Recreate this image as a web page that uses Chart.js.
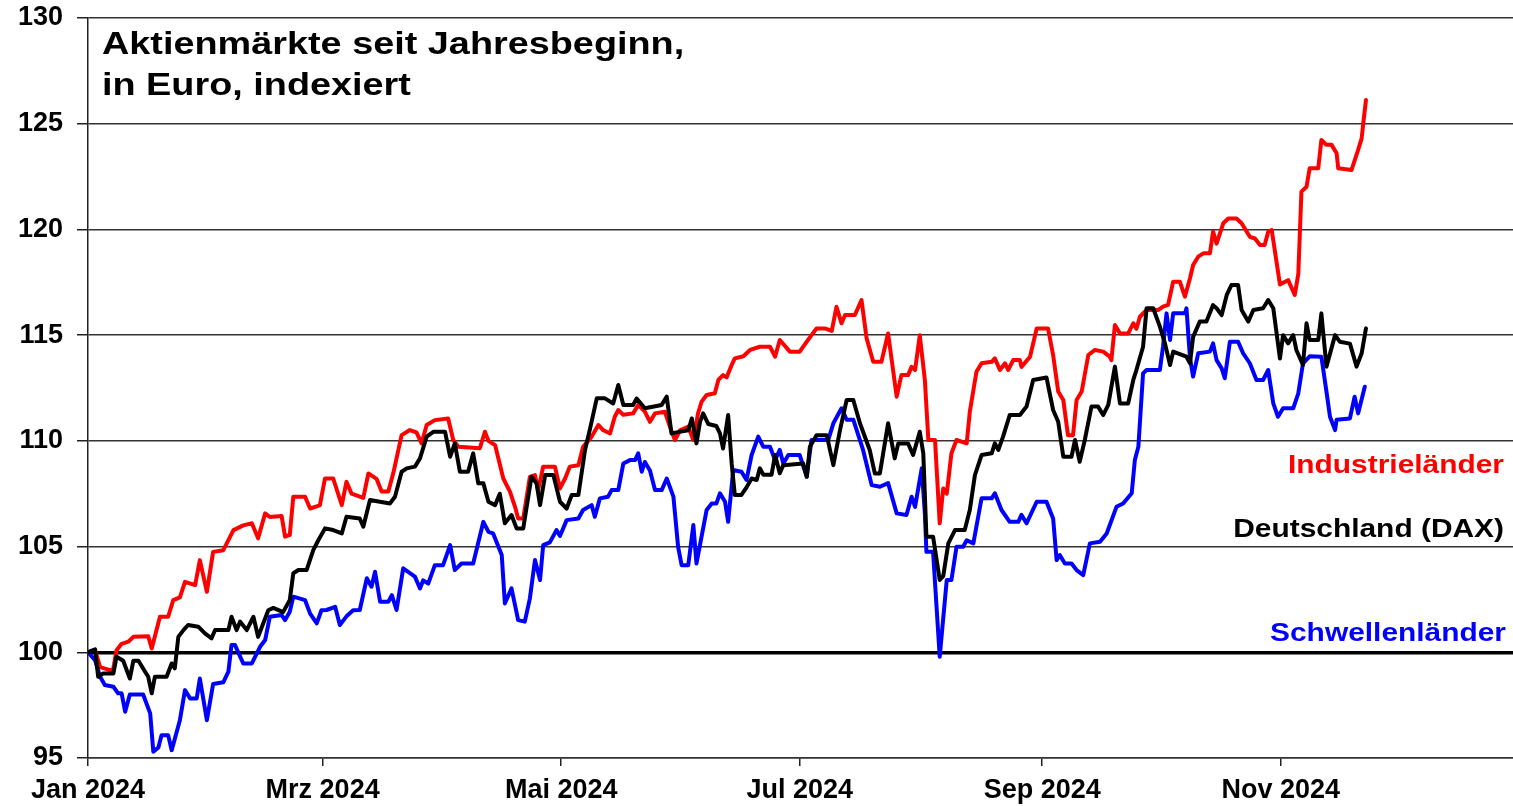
<!DOCTYPE html>
<html>
<head>
<meta charset="utf-8">
<script src="https://cdn.jsdelivr.net/npm/chart.js@4/dist/chart.umd.min.js"></script>
<style>
  body { margin: 0; background: #fff; }
  #wrap { width: 1513px; height: 806px; position: relative; }
</style>
</head>
<body>
<div id="wrap"><canvas id="chartMarkets"></canvas></div>
<script>
Chart.defaults.animation = false;

// x values are days since 1 Jan 2024
const monthTicks = [0, 60, 121, 182, 244, 305];
const monthLabels = ['Jan 2024', 'Mrz 2024', 'Mai 2024', 'Jul 2024', 'Sep 2024', 'Nov 2024'];
const yTicks = [95, 100, 105, 110, 115, 120, 125, 130];

const titleLines = ['Aktienmärkte seit Jahresbeginn,', 'in Euro, indexiert'];
const seriesNames = ['Industrieländer', 'Deutschland (DAX)', 'Schwellenländer'];

const industrialDays = [0, 1.8, 3.1, 5.6, 6.4, 7.3, 8.6, 10.3, 11.6, 15.4, 16.3, 18.4, 20.5, 21.8, 23.5, 24.8, 27.4, 28.6, 30.4, 32, 34.6, 37.2, 39.7, 41.9, 43.5, 45.3, 46.5, 49.5, 50.4, 51.6, 52.5, 55.5, 56.8, 58.5, 59.3, 60.6, 62.7, 64.9, 66.1, 67.4, 70.4, 71.7, 73.8, 75.1, 76.8, 78.1, 80.2, 82.3, 84, 85.3, 86.6, 88.7, 92.1, 93.4, 94.7, 100.2, 101.5, 102.4, 104.1, 106.2, 107.9, 109.2, 110, 111.3, 113, 114.3, 115.1, 116.4, 119.4, 120.7, 122, 123.2, 125.4, 126.6, 128.8, 130.5, 131.8, 133.5, 134.7, 135.6, 136.9, 139.4, 140.7, 142.4, 143.7, 145, 147.5, 148.8, 150.1, 151.4, 153.5, 154.8, 156, 156.9, 158.2, 160.3, 161.2, 162.4, 163.3, 164.6, 165.4, 167.6, 169.3, 171.8, 174.4, 175.7, 176.9, 179.5, 182, 183.8, 186.3, 188.4, 190.2, 191.4, 192.7, 193.6, 196.1, 197.8, 199.1, 200.8, 202.9, 204.6, 206.8, 208, 209.7, 210.6, 211.5, 212.7, 214, 214.9, 216.6, 217.8, 218.7, 219.6, 220.8, 222.1, 224.7, 225.5, 227.2, 228.5, 231.1, 231.9, 233.2, 234.5, 235.3, 236.6, 238.3, 238.7, 240.9, 242.6, 245.5, 246.8, 248.1, 249.4, 250.6, 251.9, 252.8, 254.1, 255.8, 257.5, 259.6, 261.3, 261.7, 262.6, 263.9, 266, 267.3, 268.1, 269, 270.7, 273.7, 274.9, 276.2, 277.5, 279.2, 280.5, 281.8, 282.6, 283.9, 285.2, 286.9, 287.7, 288.6, 290.3, 291.6, 293.7, 295, 297.1, 298.4, 299.7, 300.9, 301.8, 302.7, 304.8, 306.9, 308.6, 309.5, 310.3, 311.6, 312.4, 314.6, 315.4, 316.7, 318, 319.3, 319.7, 323.1, 324.8, 325.7, 326.1, 326.8];
const industrialValues = [100, 100.1, 99.3, 99.16, 99.16, 100.1, 100.4, 100.5, 100.73, 100.76, 100.18, 101.68, 101.68, 102.47, 102.6, 103.33, 103.18, 104.36, 102.86, 104.75, 104.83, 105.78, 106, 106.1, 105.39, 106.57, 106.4, 106.45, 105.47, 105.55, 107.36, 107.36, 106.8, 106.9, 106.96, 108.22, 108.22, 106.96, 108.07, 107.5, 107.3, 108.46, 108.2, 107.6, 107.6, 108.5, 110.27, 110.51, 110.4, 109.88, 110.75, 110.98, 111.06, 110.04, 109.72, 109.65, 110.43, 110, 109.8, 108.22, 107.6, 106.88, 106.33, 106.33, 108.3, 108.38, 107.67, 108.78, 108.78, 107.75, 108.22, 108.78, 108.85, 109.72, 110.2, 110.75, 110.5, 110.35, 111.14, 111.46, 111.23, 111.3, 111.7, 111.38, 110.9, 111.3, 111.38, 110.67, 110.04, 110.5, 110.67, 110.04, 111.3, 111.85, 112.17, 112.25, 112.88, 113.11, 113, 113.59, 113.9, 114, 114.3, 114.45, 114.45, 113.98, 114.77, 114.22, 114.22, 114.69, 115.32, 115.32, 115.2, 116.34, 115.56, 115.95, 115.95, 116.66, 114.85, 113.74, 113.74, 115.08, 112.09, 113.11, 113.11, 113.5, 113.35, 115, 112.88, 110.04, 110.04, 106.1, 107.75, 107.5, 109.41, 110.04, 109.88, 111.38, 113.27, 113.67, 113.74, 113.9, 113.35, 113.67, 113.35, 113.82, 113.82, 113.5, 113.98, 115.32, 115.32, 114.06, 112.33, 111.93, 110.27, 110.27, 111.93, 112.33, 114.06, 114.3, 114.22, 113.98, 113.82, 115.48, 115.08, 115.08, 115.56, 115.3, 115.87, 116.19, 116.19, 116.35, 116.43, 117.53, 117.53, 116.82, 117.69, 118.32, 118.71, 118.87, 118.87, 119.9, 119.33, 120.29, 120.52, 120.52, 120.29, 119.65, 119.57, 119.26, 119.26, 119.89, 119.97, 117.4, 117.6, 116.9, 117.9, 121.79, 122.02, 122.89, 122.89, 124.23, 124, 124, 123.6, 122.89, 122.81, 123.76, 124.31, 125, 126.12];

const daxDays = [0, 1.8, 2.6, 3.9, 6.5, 7.3, 9, 10.7, 11.6, 12.9, 14.6, 15.4, 16.3, 17.1, 20.1, 21.4, 22.2, 23.1, 24.4, 25.6, 28.2, 29.9, 31.6, 32.5, 35.9, 36.7, 38, 38.9, 40.6, 42.3, 43.5, 46.1, 47.4, 49.9, 51.6, 52.5, 53.8, 55.9, 57.6, 58.9, 60.6, 62.7, 64.9, 66.1, 69.5, 70.4, 72.1, 77.2, 78.5, 80.2, 81.5, 83.6, 84.9, 86.6, 88.3, 91.3, 92.6, 93.8, 95.1, 97.2, 98.5, 99.8, 101.1, 102.4, 104.1, 105.3, 106.6, 108.3, 109.6, 111.3, 113.4, 114.7, 115.6, 116.9, 119, 120.7, 122.4, 123.7, 125.4, 127.1, 128.4, 130.1, 132.2, 134.3, 135.6, 136.9, 139.4, 140.3, 142.4, 146.7, 148, 149.2, 150.5, 153.5, 154.4, 155.6, 156.5, 157.3, 158.6, 160.7, 161.6, 162.4, 163.7, 164.6, 165.4, 167.1, 168.4, 169.7, 171, 171.8, 172.7, 174.8, 175.7, 176.9, 177.8, 182.9, 183.8, 184.6, 186.3, 188.9, 190.6, 192.3, 194, 195.7, 197.4, 199.9, 201.2, 202.5, 204.6, 206.3, 207.2, 209.7, 211, 212.7, 213.6, 214.4, 216.1, 217.8, 218.7, 220, 221.7, 224.2, 225.5, 226.8, 228.5, 231.1, 231.9, 232.8, 234, 235.7, 238.3, 240, 241.7, 245.1, 246.8, 248.1, 249.4, 251.5, 252.4, 253.6, 254.9, 256.6, 258.3, 259.6, 260.9, 262.6, 263.9, 266, 267.3, 268.1, 269.8, 270.7, 272.4, 274.1, 275.4, 276.7, 277.5, 280.9, 281.8, 282.6, 284.3, 286, 287.7, 288.6, 289.9, 291.2, 292.4, 294.1, 295, 296.7, 298, 300.5, 301.8, 303.1, 304.8, 305.6, 306.9, 308.2, 309, 310.7, 311.6, 312.4, 314.6, 315.4, 316.7, 318.9, 320.1, 322.7, 324.4, 325.7, 326.8];
const daxValues = [100, 100.14, 98.84, 99, 99, 99.79, 99.6, 98.76, 99.6, 99.6, 99.08, 98.84, 98.06, 98.84, 98.84, 99.47, 99.24, 100.73, 101.05, 101.29, 101.21, 100.89, 100.66, 101.05, 101.05, 101.68, 101.05, 101.45, 101.05, 101.68, 100.73, 101.99, 102.1, 101.9, 102.47, 103.74, 103.89, 103.89, 104.83, 105.3, 105.86, 105.78, 105.62, 106.41, 106.33, 105.94, 107.2, 107.04, 107.36, 108.54, 108.7, 108.78, 109.17, 110.2, 110.43, 110.43, 109.25, 109.88, 108.54, 108.54, 109.41, 107.99, 107.99, 107.12, 106.96, 107.5, 106.1, 106.49, 105.86, 105.86, 108.3, 107.99, 106.96, 108.38, 108.38, 107.12, 106.8, 107.44, 107.44, 109.57, 110.59, 112.01, 112.01, 111.77, 112.64, 111.7, 111.7, 112, 111.54, 111.7, 112.09, 110.35, 110.4, 110.5, 111.06, 109.88, 110.9, 111.3, 110.8, 110.7, 110.35, 109.64, 111.22, 108.93, 107.44, 107.44, 107.8, 108.22, 108.15, 108.7, 108.4, 108.4, 109.33, 108.47, 108.85, 108.93, 108.3, 109.72, 110.27, 110.27, 108.85, 110.51, 111.93, 111.93, 110.83, 109.57, 108.46, 108.46, 110.83, 109.17, 109.88, 109.88, 109.33, 110.43, 109.41, 105.47, 105.47, 103.42, 103.6, 105.15, 105.78, 105.78, 106.73, 108.38, 109.33, 109.41, 109.88, 109.57, 110.2, 111.22, 111.22, 111.62, 112.88, 113, 111.46, 110.9, 109.25, 109.25, 110.04, 109.01, 110.04, 111.62, 111.62, 111.22, 111.7, 113.51, 111.77, 111.77, 112.88, 113.35, 114.45, 116.27, 116.27, 115.4, 114.61, 113.59, 114.22, 113.98, 113.67, 114.92, 115.64, 115.64, 116.42, 116.27, 115.95, 116.9, 117.37, 117.37, 116.19, 115.64, 116.19, 116.27, 116.66, 116.27, 113.9, 115, 114.61, 115, 114.3, 113.59, 115.56, 114.77, 114.77, 116.03, 113.51, 115, 114.69, 114.6, 113.51, 114.14, 115.32];

const emergingDays = [0, 1.8, 3.1, 4.3, 6.5, 7.7, 8.6, 9.5, 10.7, 14.1, 15.9, 16.7, 18, 18.8, 20.5, 21.4, 23.5, 24.8, 26.1, 27.8, 28.6, 30.4, 32, 34.6, 35.9, 36.7, 37.6, 39.7, 41.9, 44, 45.3, 46.5, 49.5, 50.4, 51.6, 52.5, 55.5, 56.8, 58.5, 59.7, 61, 63.2, 64.4, 66.1, 67.8, 69.5, 71.3, 72.5, 73.4, 74.7, 76.8, 77.7, 78.9, 80.6, 83.6, 84.9, 85.7, 87, 88.7, 90.8, 92.6, 93.8, 95.5, 98.5, 101.1, 102.4, 103.6, 105.8, 106.6, 108.3, 110, 111.7, 113, 114.3, 115.6, 116.4, 118.1, 119.8, 120.7, 122.4, 125.4, 126.6, 128.8, 129.6, 130.9, 133, 133.9, 135.6, 136.9, 138.6, 139.9, 140.7, 141.6, 142.4, 143.7, 145, 146.7, 148, 149.7, 150.9, 151.8, 153.5, 154.8, 155.6, 158.2, 159.5, 160.7, 161.6, 162.9, 163.7, 165, 167.1, 168.4, 169.7, 171.4, 172.7, 174.4, 175.7, 176.9, 177.8, 179.1, 182, 183.8, 185, 189.3, 190.6, 192.7, 194, 195.7, 198.2, 200.4, 202.5, 204.6, 206.8, 209.3, 210.6, 211.5, 213.2, 214, 214.4, 216.1, 217.8, 219.6, 220.8, 222.1, 223.8, 224.7, 226.4, 228.5, 231.1, 231.9, 233.6, 235.7, 237.9, 238.7, 240, 242.6, 245.1, 246.8, 247.7, 248.5, 249.8, 251.5, 252.8, 254.5, 256.2, 258.8, 260.5, 263, 264.7, 266.9, 267.7, 268.6, 269.8, 270.7, 274.1, 274.9, 275.8, 276.7, 277.5, 280.5, 280.9, 281.8, 282.6, 283.9, 286.9, 287.7, 288.6, 289.9, 290.7, 292, 294.1, 295.4, 297.1, 298.8, 300.5, 301.8, 303.1, 304.3, 305.6, 308.2, 309.5, 310.7, 312.4, 315.4, 316.7, 317.6, 318.9, 319.3, 322.7, 323.9, 324.8, 326.5];
const emergingValues = [100, 99.63, 98.84, 98.45, 98.37, 98.06, 98.06, 97.19, 98, 98, 97.11, 95.3, 95.5, 96.08, 96.08, 95.37, 96.79, 98.21, 97.82, 97.82, 98.76, 96.79, 98.5, 98.58, 99.08, 100.34, 100.34, 99.47, 99.47, 100.26, 100.58, 101.68, 101.76, 101.52, 101.92, 102.63, 102.47, 101.83, 101.37, 101.99, 102, 102.15, 101.29, 101.7, 101.99, 102, 103.5, 103.1, 103.81, 102.39, 102.39, 102.7, 102, 103.97, 103.58, 103.02, 103.4, 103.25, 104.12, 104.12, 105.07, 103.89, 104.2, 104.2, 106.17, 105.7, 105.62, 104.6, 102.31, 103.02, 101.52, 101.45, 102.55, 104.36, 103.42, 105.07, 105.2, 105.78, 105.5, 106.25, 106.33, 106.73, 106.96, 106.41, 107.28, 107.36, 107.67, 107.67, 108.93, 109.09, 109.09, 109.41, 108.54, 109, 108.6, 107.67, 107.67, 108.22, 107.36, 104.99, 104.12, 104.12, 106.02, 104.2, 106.73, 107.04, 107.04, 107.52, 107.12, 106.17, 108.62, 108.54, 108.15, 109.33, 110.2, 109.72, 109.72, 109.09, 109.57, 108.93, 109.33, 109.33, 108.3, 110.04, 110.04, 110.83, 111.54, 111, 111, 109.57, 107.91, 107.83, 108, 106.57, 106.49, 107.36, 106.88, 108.7, 106.57, 104.75, 104.75, 99.79, 103.42, 103.42, 104.99, 104.99, 105.3, 105.15, 107.28, 107.28, 107.52, 106.73, 106.17, 106.17, 106.5, 106.1, 107.12, 107.12, 106.33, 104.36, 104.6, 104.2, 104.2, 103.89, 103.65, 105.15, 105.23, 105.62, 106.88, 107.04, 107.52, 109.09, 109.72, 113.19, 113.35, 113.35, 114.45, 116.03, 114.77, 116.03, 116.03, 116.27, 113.9, 113.04, 114.14, 114.22, 114.61, 113.82, 113.43, 112.96, 114.69, 114.69, 114.14, 113.67, 112.88, 112.88, 113.35, 111.77, 111.14, 111.54, 111.54, 112.25, 113.67, 114, 113.98, 112.33, 111.14, 110.51, 111, 111.06, 112.09, 111.3, 112.56];

const toPoints = (days, values) => days.map((d, i) => ({ x: d, y: values[i] }));

// title and series names drawn straight onto the canvas
const textPlugin = {
  id: 'textLabels',
  afterDatasetsDraw(chart) {
    const ctx = chart.ctx;
    const drawText = (text, x, y, size, color, align, stretch) => {
      ctx.save();
      ctx.font = 'bold ' + size + 'px "Liberation Sans", Arial, sans-serif';
      ctx.fillStyle = color;
      ctx.textAlign = align;
      ctx.textBaseline = 'alphabetic';
      ctx.translate(x, y);
      ctx.scale(stretch, 1);
      ctx.fillText(text, 0, 0);
      ctx.restore();
    };
    drawText(titleLines[0], 102, 54, 31, '#000', 'left', 1.22);
    drawText(titleLines[1], 102, 95, 31, '#000', 'left', 1.22);
    drawText(seriesNames[0], 1504, 473, 26, '#ff0000', 'right', 1.15);
    drawText(seriesNames[1], 1504, 537, 26, '#000000', 'right', 1.15);
    drawText(seriesNames[2], 1506, 641, 26, '#0000ff', 'right', 1.15);
  }
};

const tickFont = { family: '"Liberation Sans", Arial, sans-serif', size: 27, weight: 'bold' };

new Chart(document.getElementById('chartMarkets'), {
  type: 'line',
  data: {
    datasets: [
      { label: seriesNames[1], data: toPoints(daxDays, daxValues), borderColor: '#000000' },
      { label: seriesNames[2], data: toPoints(emergingDays, emergingValues), borderColor: '#0000ff' },
      { label: seriesNames[0], data: toPoints(industrialDays, industrialValues), borderColor: '#ff0000' }
    ]
  },
  options: {
    responsive: true,
    maintainAspectRatio: false,
    animation: false,
    layout: { padding: { top: 18, left: 0, right: 0, bottom: 0 } },
    elements: {
      line: { borderWidth: 4, tension: 0, borderJoinStyle: 'round', borderCapStyle: 'round' },
      point: { radius: 0 }
    },
    plugins: {
      legend: { display: false },
      tooltip: { enabled: false }
    },
    scales: {
      x: {
        type: 'linear',
        min: 0,
        max: 364.4,
        afterBuildTicks: (scale) => { scale.ticks = monthTicks.map(v => ({ value: v })); },
        afterFit: (scale) => { scale.height = 48; },
        ticks: {
          autoSkip: false,
          maxRotation: 0,
          padding: 8,
          color: '#000',
          font: tickFont,
          callback: (value) => monthLabels[monthTicks.indexOf(value)]
        },
        grid: { drawOnChartArea: false, drawTicks: true, tickLength: 8, color: '#222', lineWidth: 1.5 },
        border: { display: true, color: '#333', width: 1.5 }
      },
      y: {
        min: 95,
        max: 130,
        afterBuildTicks: (scale) => { scale.ticks = yTicks.map(v => ({ value: v })); },
        afterFit: (scale) => {
          scale.width = 88;
          scale.paddingTop = 0;
          scale.paddingBottom = 0;
        },
        ticks: { padding: 14, color: '#000', font: tickFont },
        grid: {
          color: (c) => c.tick && c.tick.value === 100 ? '#000' : '#333',
          lineWidth: (c) => c.tick && c.tick.value === 100 ? 3.5 : 1.5,
          tickColor: '#222',
          tickWidth: 1.5,
          tickLength: 11
        },
        border: { display: true, color: '#222', width: 1.5 }
      }
    }
  },
  plugins: [textPlugin]
});
</script>
</body>
</html>
